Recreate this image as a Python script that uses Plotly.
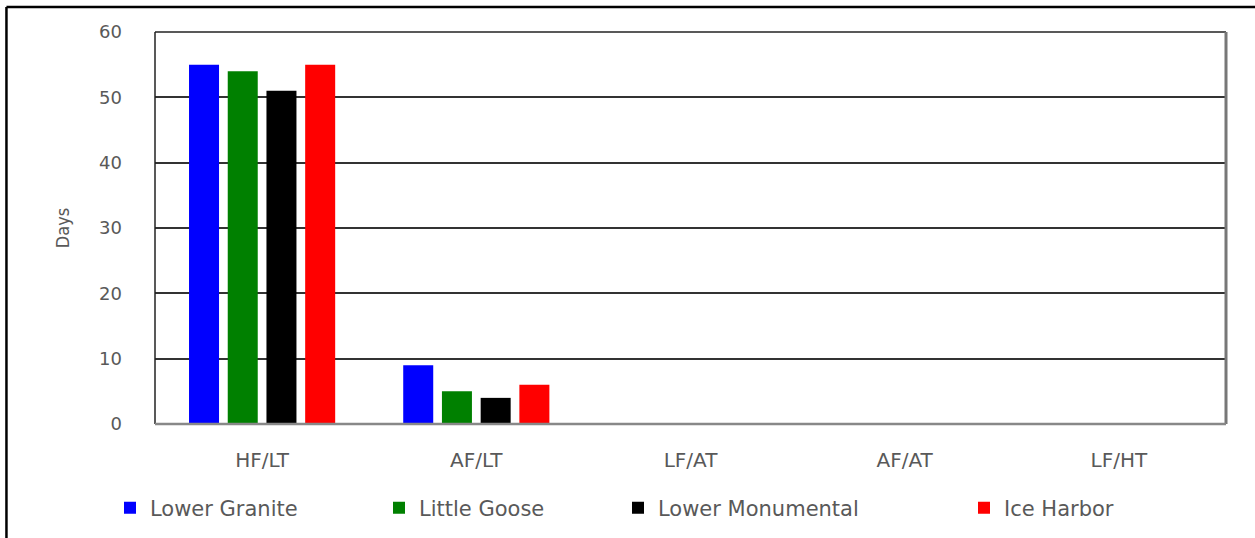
import plotly.graph_objects as go

categories = ["HF/LT", "AF/LT", "LF/AT", "AF/AT", "LF/HT"]
lower_granite = [55, 9, 0, 0, 0]
little_goose = [54, 5, 0, 0, 0]
lower_monumental = [51, 4, 0, 0, 0]
ice_harbor = [55, 6, 0, 0, 0]

series = [
    ("Lower Granite", lower_granite, "#0000FF"),
    ("Little Goose", little_goose, "#008000"),
    ("Lower Monumental", lower_monumental, "#000000"),
    ("Ice Harbor", ice_harbor, "#FF0000"),
]
legend_ids = ["legend", "legend2", "legend3", "legend4"]
legend_left_px = [110, 379, 618, 964]

W, H = 1255, 538
txt = "#595959"
fig = go.Figure()
for (name, vals, color), lid in zip(series, legend_ids):
    fig.add_trace(go.Bar(x=categories, y=vals, name=name, marker_color=color,
                         marker_line_width=0, legend=lid, showlegend=True))

legends = {}
for lid, lx in zip(legend_ids, legend_left_px):
    legends[lid] = dict(orientation="h", xref="container", yref="container",
                        x=lx / W, xanchor="left", y=1 - 508 / H, yanchor="middle",
                        font=dict(size=21, color=txt, family="DejaVu Sans"),
                        bgcolor="rgba(0,0,0,0)", visible=True)

fig.update_layout(
    width=W, height=H, showlegend=True,
    margin=dict(l=155, r=29, t=32, b=114),
    paper_bgcolor="white", plot_bgcolor="white",
    barmode="group", bargap=0.277, bargroupgap=0.225,
    font=dict(family="DejaVu Sans", color=txt),
    xaxis=dict(showgrid=False, showline=False, ticks="",
               tickfont=dict(size=20, color=txt), ticklabelstandoff=22),
    yaxis=dict(range=[0, 60], dtick=10, showgrid=True, gridcolor="#333333", gridwidth=1.5,
               zeroline=False, showline=False, ticks="",
               tickfont=dict(size=18, color=txt), ticklabelstandoff=32,
               title=dict(text="Days",
                          font=dict(size=18, color=txt,
                                    family="DejaVu Sans Condensed, DejaVu Sans"),
                          standoff=24)),
    shapes=[
        # plot frame
        dict(type="line", xref="paper", yref="paper", x0=0, x1=1, y0=1, y1=1,
             line=dict(color="#222222", width=1.5)),
        dict(type="line", xref="paper", yref="paper", x0=0, x1=0, y0=0, y1=1,
             line=dict(color="#222222", width=1.5)),
        dict(type="line", xref="paper", yref="paper", x0=1, x1=1, y0=0, y1=1,
             line=dict(color="#777777", width=3)),
        dict(type="line", xref="paper", yref="paper", x0=0, x1=1, y0=0, y1=0,
             line=dict(color="#888888", width=2.5)),
        # outer image border (left and top)
        dict(type="line", xref="paper", yref="paper", x0=-0.1387, x1=-0.1387, y0=-0.4, y1=1.0638,
             line=dict(color="#000000", width=2.5)),
        dict(type="line", xref="paper", yref="paper", x0=-0.1387, x1=1.05, y0=1.0638, y1=1.0638,
             line=dict(color="#000000", width=2.5)),
    ],
    **legends,
)

fig.write_html("out.html", config={"displayModeBar": False},
               post_script="document.body.style.margin='0';document.body.style.padding='0';")
